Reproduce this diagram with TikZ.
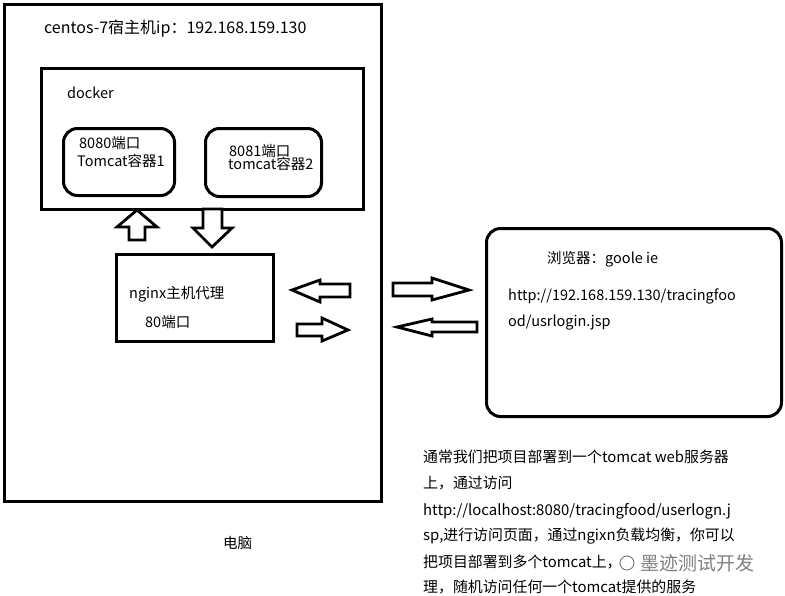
\documentclass[tikz,border=0pt]{standalone}
\usepackage{fontspec}
\setmainfont{Noto Sans CJK SC}
\begin{document}
\begin{tikzpicture}[x=1pt,y=-1pt,
  frame/.style={draw=black,line width=3pt,anchor=north west,inner sep=0pt},
  rbox/.style={frame,rounded corners=14pt},
  lbl/.style={inner sep=0pt,anchor=base west,font=\fontsize{14.5}{17}\selectfont},
  note/.style={lbl,font=\fontsize{14.9}{17}\selectfont},
  blockarrow/.style={draw=black,line width=2.8pt,line join=miter,fill=white},
  wm/.style={inner sep=0pt,anchor=base west,text=black!50,font=\fontsize{19}{21}\selectfont}
]
\useasboundingbox (0,0) rectangle (785,595);
\fill[white] (0,0) rectangle (785,595);

% boxes
\node[frame,minimum width=377pt,minimum height=497pt] (pc) at (3,3) {};
\node[frame,minimum width=322pt,minimum height=141pt] (docker) at (40,67) {};
\node[rbox,minimum width=111pt,minimum height=67pt] (tc1) at (62,127) {};
\node[rbox,minimum width=116pt,minimum height=68pt] (tc2) at (204,127) {};
\node[frame,minimum width=157pt,minimum height=87pt] (nginx) at (115,253) {};
\node[rbox,minimum width=295pt,minimum height=188pt] (browser) at (485,227) {};

% texts
\node[lbl,font=\fontsize{16}{18}\selectfont] (t-host) at (44,33) {centos-7宿主机ip：192.168.159.130};
\node[lbl] (t-docker) at (67,98) {docker};
\node[lbl] (t-p1) at (79,148) {8080端口};
\node[lbl] (t-c1) at (77,166) {Tomcat容器1};
\node[lbl] (t-p2) at (229,156) {8081端口};
\node[lbl] (t-c2) at (228,169) {tomcat容器2};
\node[lbl] (t-ng) at (129,298) {nginx主机代理};
\node[lbl] (t-ngp) at (145,327) {80端口};
\node[lbl] (t-br) at (547,263) {浏览器：goole ie};
\node[lbl] (t-url1) at (508,300) {http://192.168.159.130/tracingfoo};
\node[lbl] (t-url2) at (508,326) {od/usrlogin.jsp};
\node[lbl] (t-pc) at (223,548) {电脑};

\node[note] (n1) at (423,462) {通常我们把项目部署到一个tomcat web服务器};
\node[note] (n2) at (423,488) {上，通过访问};
\node[note] (n3) at (423,515) {http://localhost:8080/tracingfood/userlogn.j};
\node[note] (n4) at (423,540) {sp,进行访问页面，通过ngixn负载均衡，你可以};
\node[note] (n5) at (423,567) {把项目部署到多个tomcat上，};
\node[note] (n6) at (423,592) {理，随机访问任何一个tomcat提供的服务};

% watermark
\draw[black!50,line width=1pt] (627,563) circle (7pt);
\node[wm] (wmt) at (640,570) {墨迹测试开发};

% block arrows
\draw[blockarrow] (137,210) -- (157,227) -- (145,227) -- (145,240) -- (129,240) -- (129,227) -- (117,227) -- cycle;
\draw[blockarrow] (203,209) -- (222,209) -- (222,228) -- (232,228) -- (212,247) -- (193,228) -- (203,228) -- cycle;
\draw[blockarrow] (292,290) -- (320,280) -- (320,284) -- (350,284) -- (350,297) -- (320,297) -- (320,302) -- cycle;
\draw[blockarrow] (297,324) -- (322,324) -- (322,318) -- (348,330) -- (322,341) -- (322,336) -- (297,336) -- cycle;
\draw[blockarrow] (393,283) -- (432,283) -- (432,278) -- (469,290) -- (432,300) -- (432,296) -- (393,296) -- cycle;
\draw[blockarrow] (397,327) -- (432,319) -- (432,322) -- (477,322) -- (477,332) -- (432,332) -- (432,336) -- cycle;
\end{tikzpicture}
\end{document}
